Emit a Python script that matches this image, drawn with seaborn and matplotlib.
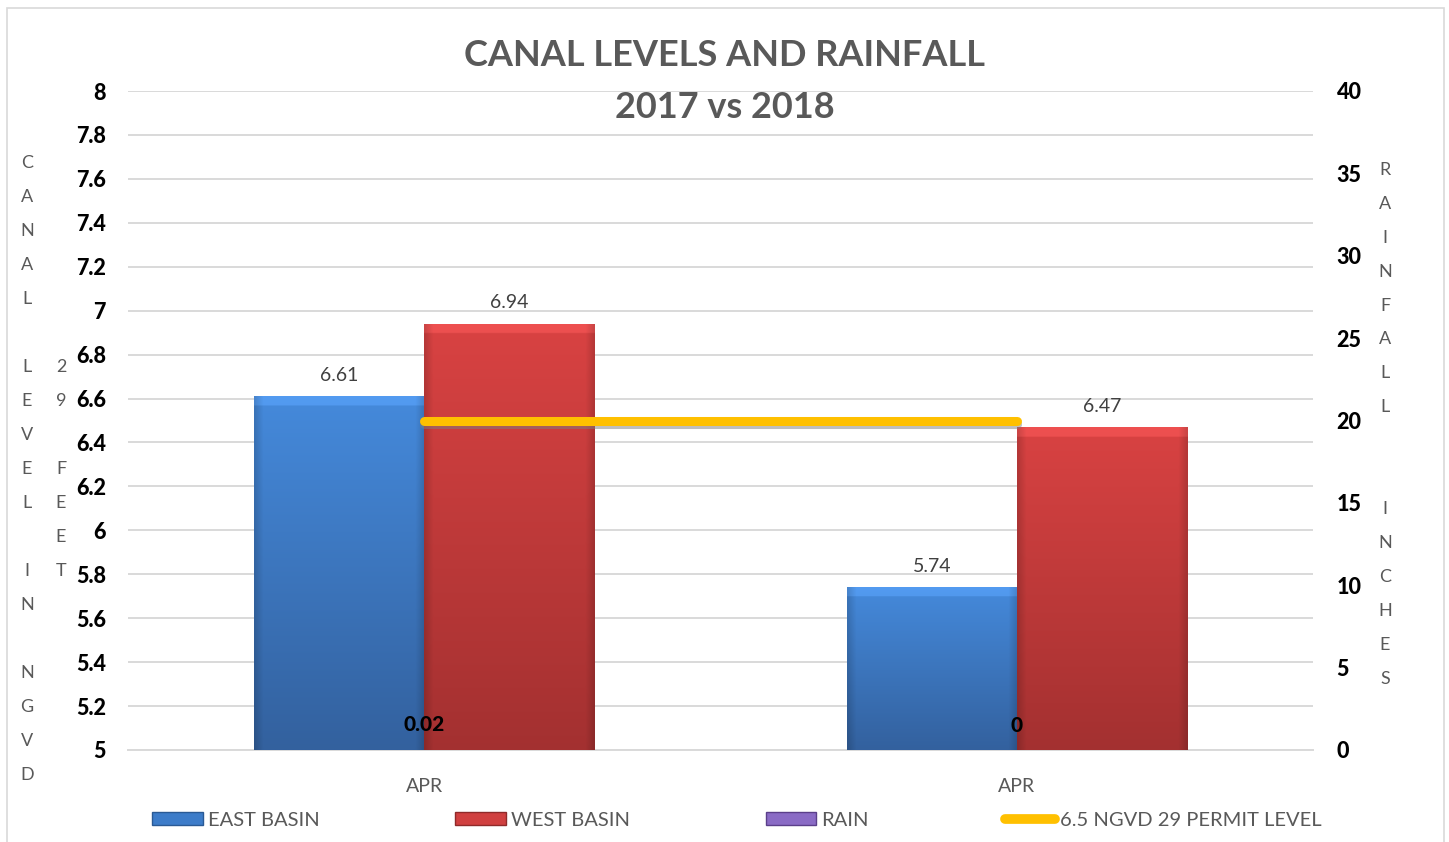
import numpy as np
import pandas as pd
import matplotlib
matplotlib.use("Agg")
import matplotlib.pyplot as plt
import seaborn as sns
from matplotlib.patches import Rectangle
from matplotlib.lines import Line2D
import matplotlib.patheffects as pe

# ---- data ----
years = ["2017", "2018"]
tick_labels = ["APR", "APR"]
east_basin = [6.61, 5.74]
west_basin = [6.94, 6.47]
rain = [0.02, 0]
permit_level = [6.5, 6.5]

left_ticks = [5, 5.2, 5.4, 5.6, 5.8, 6, 6.2, 6.4, 6.6, 6.8, 7, 7.2, 7.4, 7.6, 7.8, 8]
right_ticks = [0, 5, 10, 15, 20, 25, 30, 35, 40]

df = pd.DataFrame({
    "year": years * 2,
    "basin": ["EAST BASIN"] * 2 + ["WEST BASIN"] * 2,
    "level": east_basin + west_basin,
})
rain_df = pd.DataFrame({"year": years, "rain": rain})

sns.set_theme(style="white")
plt.rcParams["font.family"] = ["Lato", "DejaVu Sans"]

W, H = 1449, 842
fig = plt.figure(figsize=(W / 100, H / 100), dpi=100)
ax = fig.add_axes([128 / W, 1 - 750 / H, (1313 - 128) / W, (750 - 91) / H])
ax2 = ax.twinx()

blue = "#3d7cc9"
red = "#d04040"
sns.barplot(data=df, x="year", y="level", hue="basin", order=years,
            palette={"EAST BASIN": blue, "WEST BASIN": red},
            width=0.574, ax=ax, legend=False, zorder=3, linewidth=0)
ax.set_ylim(5, 8)
ax.set_xlim(-0.5, 1.5)

# gradient shading of bars
grad_cols = {0: ((0.27, 0.54, 0.86), (0.20, 0.38, 0.62)),
             1: ((0.85, 0.26, 0.26), (0.64, 0.19, 0.19))}
for ci, cont in enumerate(ax.containers):
    top_c, bot_c = grad_cols[ci]
    for bar in cont:
        x0, y0 = bar.get_x(), 5.0
        w = bar.get_width()
        y1 = bar.get_height() + bar.get_y()
        n = 300
        t = np.linspace(0, 1, n)[:, None]  # 0 top -> 1 bottom
        base = np.array(top_c)[None, None, :] * (1 - t[..., None]) + np.array(bot_c)[None, None, :] * t[..., None]
        xs = np.linspace(0, 1, 80)[None, :]
        edge = 1 - 0.15 * np.clip(1 - np.minimum(xs, 1 - xs) / 0.05, 0, 1)
        img = base * edge[..., None]
        topdist = t[:, 0] * (y1 - y0)
        hl = topdist < 0.04
        img[hl] = np.clip(img[hl] * 1.05 + 0.04, 0, 1)
        im = ax.imshow(img, extent=[x0, x0 + w, y0, y1], aspect="auto",
                       zorder=3.5, interpolation="bilinear")
        im.set_clip_path(bar)
        bar.set_edgecolor((0, 0, 0, 0.15))
ax.set_xlim(-0.5, 1.5)
ax.set_ylim(5, 8)

for cont in ax.containers:
    ax.bar_label(cont, labels=[f"{v:g}" for v in cont.datavalues], padding=9,
                 fontsize=14, color="#404040", zorder=6)

# permit level line
sns.lineplot(x=[0, 1], y=permit_level, ax=ax, color="#FFC000", linewidth=6.5,
             solid_capstyle="round", zorder=5,
             path_effects=[pe.SimpleLineShadow(offset=(0, -2.5), shadow_color="#7f7f7f", alpha=0.5),
                           pe.Normal()])

# rain on secondary axis (drawn above primary axes)
sns.barplot(data=rain_df, x="year", y="rain", order=years, color="#7a5bb5",
            width=0.2, ax=ax2, zorder=4, linewidth=0)
ax2.set_ylim(0, 40)
ax2.set_xlim(-0.5, 1.5)
for cont in ax2.containers:
    ax2.bar_label(cont, labels=[f"{v:g}" for v in cont.datavalues], padding=11,
                  fontsize=15, fontweight="black", color="black")

# axes styling
tick_font = dict(fontsize=15.5, fontweight="black", color="black")
ax.set_yticks(left_ticks)
ax.set_yticklabels([f"{v:g}" for v in left_ticks], **tick_font)
ax2.set_yticks(right_ticks)
ax2.set_yticklabels([f"{v:g}" for v in right_ticks], **tick_font)
ax.set_xticks([0, 1])
ax.set_xticklabels(tick_labels, fontsize=14, color="#595959")
ax.tick_params(axis="y", length=0, pad=16)
ax2.tick_params(axis="y", length=0, pad=17)
ax.tick_params(axis="x", length=0, pad=20)
ax.grid(axis="y", color="#d9d9d9", linewidth=1.4, zorder=0)
ax.set_axisbelow(True)
ax.set_xlabel("")
ax.set_ylabel("")
ax2.set_ylabel("")
for a in (ax, ax2):
    for s in a.spines.values():
        s.set_visible(False)
ax.spines["bottom"].set_visible(True)
ax.spines["bottom"].set_color("#d9d9d9")
ax.spines["bottom"].set_linewidth(1.4)

# title
fig.text(0.5, 1 - 56 / H, "CANAL LEVELS AND RAINFALL", ha="center", va="center",
         fontsize=26, fontweight="bold", color="#595959")
fig.text(0.5, 1 - 107 / H, "2017 vs 2018", ha="center", va="center",
         fontsize=26, fontweight="bold", color="#595959")

# stacked axis titles
def stacked(x, y_start, letters, step=34):
    for i, ch in enumerate(letters):
        if ch.strip():
            fig.text(x / W, 1 - (y_start + i * step) / H, ch, ha="center", va="center",
                     fontsize=13, color="#595959")

stacked(27, 163, list("CANAL LEVEL IN NGVD"))
stacked(61, 367, list("29 FEET"))
stacked(1385, 170, list("RAINFALL") + [" ", " "] + list("INCHES"), step=33.9)

# legend
handles = [
    Rectangle((0, 0), 1, 1, facecolor=blue, edgecolor="#2a5a95"),
    Rectangle((0, 0), 1, 1, facecolor=red, edgecolor="#8f2a2a"),
    Rectangle((0, 0), 1, 1, facecolor="#8a6bc5", edgecolor="#5b3f8a"),
    Line2D([0], [0], color="#FFC000", linewidth=7, solid_capstyle="round"),
]
labels = ["EAST BASIN", "WEST BASIN", "RAIN", "6.5 NGVD 29 PERMIT LEVEL"]
leg = fig.legend(handles, labels, loc="center", bbox_to_anchor=(737 / W, 1 - 820 / H),
                 ncol=4, frameon=False, fontsize=14.5, handlelength=2.5, handleheight=0.6,
                 handletextpad=0.25, columnspacing=6.75, labelcolor="#595959")

# outer border
fig.patches.append(Rectangle((7 / W, -0.01), (1444 - 7) / W, 1 - 8 / H + 0.01,
                             transform=fig.transFigure, fill=False,
                             edgecolor="#d9d9d9", linewidth=1.2))

fig.savefig("out.png", dpi=100)
